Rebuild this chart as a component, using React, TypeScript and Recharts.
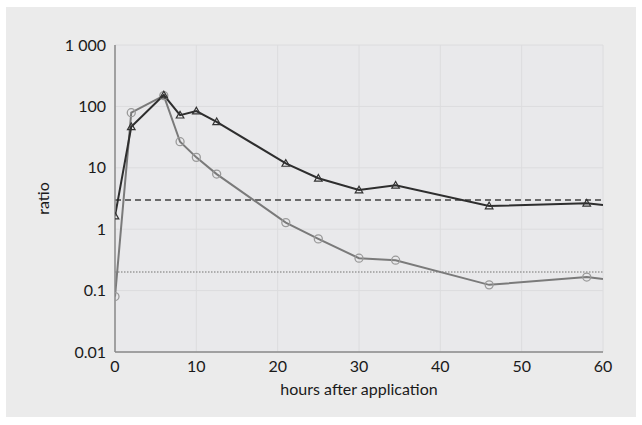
import React from 'react';
import { LineChart, Line, XAxis, YAxis, CartesianGrid, ReferenceLine } from 'recharts';

const hours = [0, 2, 6, 8, 10, 12.5, 21, 25, 30, 34.5, 46, 58, 60];
const circleSeries = [0.08, 79, 150, 26.6, 14.8, 7.9, 1.28, 0.695, 0.337, 0.313, 0.124, 0.166, 0.154];
const triangleSeries = [1.64, 46.6, 153, 72, 84, 56, 11.8, 6.75, 4.35, 5.19, 2.39, 2.65, 2.48];
const xTicks = [0, 10, 20, 30, 40, 50, 60];
const yTicks = [0.01, 0.1, 1, 10, 100, 1000];
const dashedLevel = 3;
const dottedLevel = 0.2;
const markerless = [60];

const data = hours.map((h, i) => ({ h, circle: circleSeries[i], triangle: triangleSeries[i] }));

const FONT = 'Lato, "Open Sans", sans-serif';

const fmtY = (v: number) => (v === 1000 ? '1 000' : String(v));

const CircleDot = (props: any) => {
  const { cx, cy, payload, index } = props;
  if (markerless.includes(payload.h)) return <g key={`c${index}`} />;
  return <circle key={`c${index}`} cx={cx} cy={cy} r={4} fill="none" stroke="#9a9a9a" strokeWidth={1.3} />;
};

const TriangleDot = (props: any) => {
  const { cx, cy, payload, index } = props;
  if (markerless.includes(payload.h)) return <g key={`t${index}`} />;
  const s = 3.8;
  const pts = `${cx},${cy - s} ${cx - s},${cy + s * 0.75} ${cx + s},${cy + s * 0.75}`;
  return <polygon key={`t${index}`} points={pts} fill="none" stroke="#333" strokeWidth={1.2} />;
};

export default function App() {
  return (
    <div style={{ position: 'absolute', left: 0, top: 0, width: 642, height: 425, background: '#ffffff' }}>
      <div style={{ position: 'absolute', left: 6, top: 7, width: 630, height: 410, background: '#ebebeb' }} />
      <div style={{ position: 'absolute', left: 0, top: 0 }}>
        <LineChart
          width={642}
          height={425}
          data={data}
          margin={{ top: 45, right: 39, bottom: 28, left: 35 }}
          style={{ fontFamily: FONT }}
        >
          <CartesianGrid stroke="#dcdcde" strokeWidth={1} fill="#e9e9eb" />
          <XAxis
            dataKey="h"
            type="number"
            domain={[0, 60]}
            ticks={xTicks}
            allowDataOverflow
            tickLine={false}
            axisLine={{ stroke: '#8a8a8a', strokeWidth: 1.5 }}
            tick={{ fill: '#1a1a1a', fontSize: 16 }}
            tickMargin={3}
            height={45}
            label={{ value: 'hours after application', position: 'insideBottom', offset: 2, fill: '#1a1a1a', fontSize: 16 }}
          />
          <YAxis
            type="number"
            scale="log"
            domain={[0.01, 1000]}
            ticks={yTicks}
            allowDataOverflow
            tickFormatter={fmtY}
            tickLine={false}
            axisLine={{ stroke: '#8a8a8a', strokeWidth: 1.5 }}
            tick={{ fill: '#1a1a1a', fontSize: 16 }}
            tickMargin={3}
            width={80}
            label={{ value: 'ratio', angle: -90, position: 'insideLeft', offset: 8, fill: '#1a1a1a', fontSize: 16, style: { textAnchor: 'middle' } }}
          />
          <ReferenceLine y={dashedLevel} stroke="#6a6a6a" strokeWidth={2} strokeDasharray="6 4" />
          <ReferenceLine y={dottedLevel} stroke="#9a9a9a" strokeWidth={1.5} strokeDasharray="1.5 1.5" />
          <Line
            dataKey="circle"
            stroke="#7a7a7a"
            strokeWidth={2}
            dot={CircleDot}
            isAnimationActive={false}
          />
          <Line
            dataKey="triangle"
            stroke="#2e2e2e"
            strokeWidth={2}
            dot={TriangleDot}
            isAnimationActive={false}
          />
        </LineChart>
      </div>
    </div>
  );
}
